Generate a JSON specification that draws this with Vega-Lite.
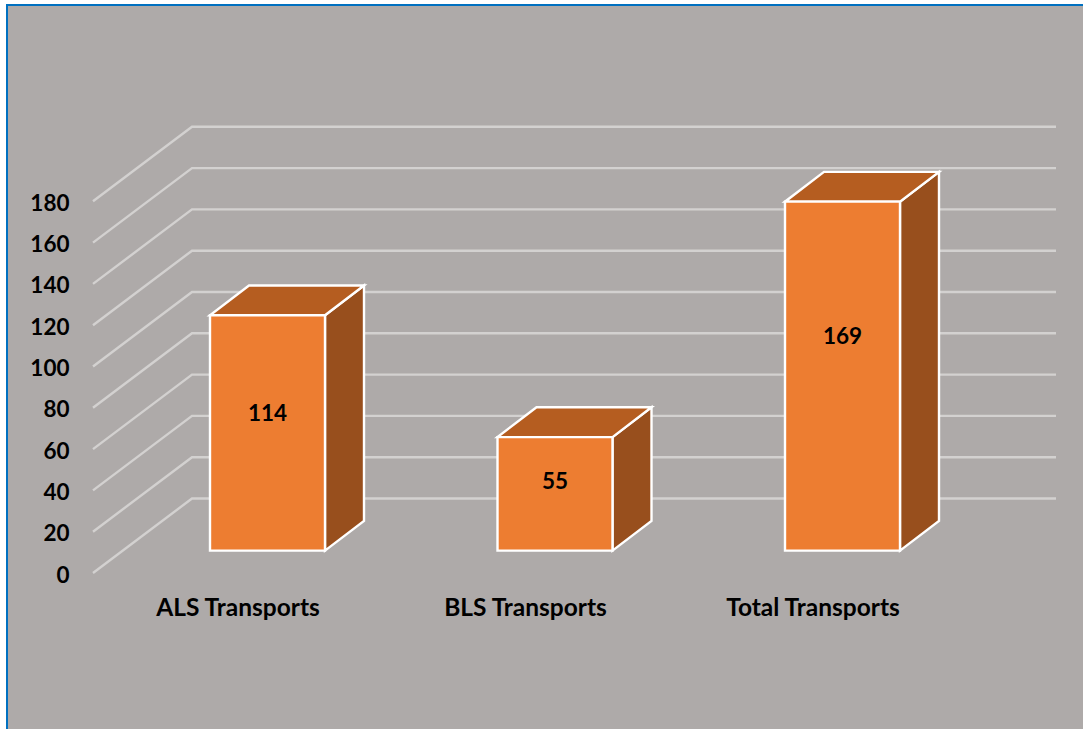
{
"$schema":"https://vega.github.io/schema/vega-lite/v6.json",
"width":1083,"height":729,"padding":0,"autosize":{"type":"none"},
"background":"#ffffff",
"config":{"view":{"stroke":null},"font":"Lato"},
"datasets":{
"bars":[{"category":"ALS Transports","value":114,"slot":0},{"category":"BLS Transports","value":55,"slot":1},{"category":"Total Transports","value":169,"slot":2}],
"ticks":[{"tick":0},{"tick":20},{"tick":40},{"tick":60},{"tick":80},{"tick":100},{"tick":120},{"tick":140},{"tick":160},{"tick":180}]
},
"data":{"name":"bars"},
"encoding":{
"x":{"type":"quantitative","scale":{"domain":[0,1083],"range":[0,1083],"nice":false,"zero":false},"axis":null},
"y":{"type":"quantitative","scale":{"domain":[-75.54,277.48],"nice":false,"zero":false}}
},
"layer":[
{"data":{"values":[{"panel":"background"}]},
 "mark":{"type":"rect","fill":"#AEAAA9","stroke":"#0070C0","strokeWidth":2,"clip":true},
 "encoding":{"x":{"datum":7},"x2":{"datum":1100},"y":{"datum":-90},"y2":{"datum":275.1}}},
{"data":{"name":"ticks"},
 "transform":[{"calculate":"[93,192,1056]","as":"px"},{"flatten":["px"]},{"calculate":"datum.tick+(datum.px>93?36.08:0)","as":"wall"}],
 "mark":{"type":"line","stroke":"#D3D1D0","strokeWidth":2.4,"interpolate":"linear"},
 "encoding":{"x":{"field":"px","type":"quantitative"},
  "y":{"field":"wall","type":"quantitative","title":null,
   "axis":{"orient":"left","values":[0,20,40,60,80,100,120,140,160,180],"domain":false,"ticks":false,"grid":false,"labelPadding":-69,"labelOffset":2,"labelFontSize":22.5,"labelFontWeight":"bold","labelColor":"#000000","labelFont":"Lato","title":null,"zindex":1}},
  "detail":{"field":"tick"}}},
{"transform":[
  {"calculate":"[0,1]","as":"t"},{"flatten":["t"]},
  {"calculate":"325+287.5*datum.slot+39*datum.t","as":"sx"},
  {"calculate":"10.82+14.44*datum.t","as":"lo"},
  {"calculate":"datum.value+10.82+14.44*datum.t","as":"hi"}],
 "mark":{"type":"area","orient":"vertical","fill":"#984F1D","stroke":"#ffffff","strokeWidth":2.4,"strokeJoin":"miter"},
 "encoding":{"x":{"field":"sx","type":"quantitative"},"y":{"field":"lo","type":"quantitative","stack":null},"y2":{"field":"hi"},"detail":{"field":"category"}}},
{"transform":[
  {"calculate":"[0,39,115,154]","as":"t"},{"flatten":["t"]},
  {"calculate":"210+287.5*datum.slot+datum.t","as":"sx"},
  {"calculate":"datum.value+10.82+(datum.t==154?14.44:0)","as":"lo"},
  {"calculate":"datum.value+10.82+(datum.t==0?0:14.44)","as":"hi"}],
 "mark":{"type":"area","orient":"vertical","fill":"#B55D20","stroke":"#ffffff","strokeWidth":2.4,"strokeJoin":"miter"},
 "encoding":{"x":{"field":"sx","type":"quantitative"},"y":{"field":"lo","type":"quantitative","stack":null},"y2":{"field":"hi"},"detail":{"field":"category"}}},
{"transform":[
  {"calculate":"210+287.5*datum.slot","as":"x0"},{"calculate":"datum.x0+115","as":"x1"},
  {"calculate":"10.82","as":"lo"},{"calculate":"datum.value+10.82","as":"hi"}],
 "mark":{"type":"rect","fill":"#ED7D31","stroke":"#ffffff","strokeWidth":2.4},
 "encoding":{"x":{"field":"x0","type":"quantitative"},"x2":{"field":"x1"},"y":{"field":"lo","type":"quantitative"},"y2":{"field":"hi"}}},
{"transform":[
  {"calculate":"267.5+287.5*datum.slot","as":"tx"},
  {"calculate":"[77,44.1,114.5][datum.slot]","as":"ty"}],
 "mark":{"type":"text","fontSize":22.5,"fontWeight":"bold","font":"Lato","color":"#000000","align":"center","baseline":"middle"},
 "encoding":{"x":{"field":"tx","type":"quantitative"},"y":{"field":"ty","type":"quantitative"},"text":{"field":"value","type":"quantitative"}}},
{"transform":[
  {"calculate":"238+287.5*datum.slot","as":"tx"},
  {"calculate":"-17.4","as":"ty"}],
 "mark":{"type":"text","fontSize":24.5,"fontWeight":"bold","font":"Lato","color":"#000000","align":"center","baseline":"middle"},
 "encoding":{"x":{"field":"tx","type":"quantitative"},"y":{"field":"ty","type":"quantitative"},"text":{"field":"category","type":"nominal"}}}
]
}
